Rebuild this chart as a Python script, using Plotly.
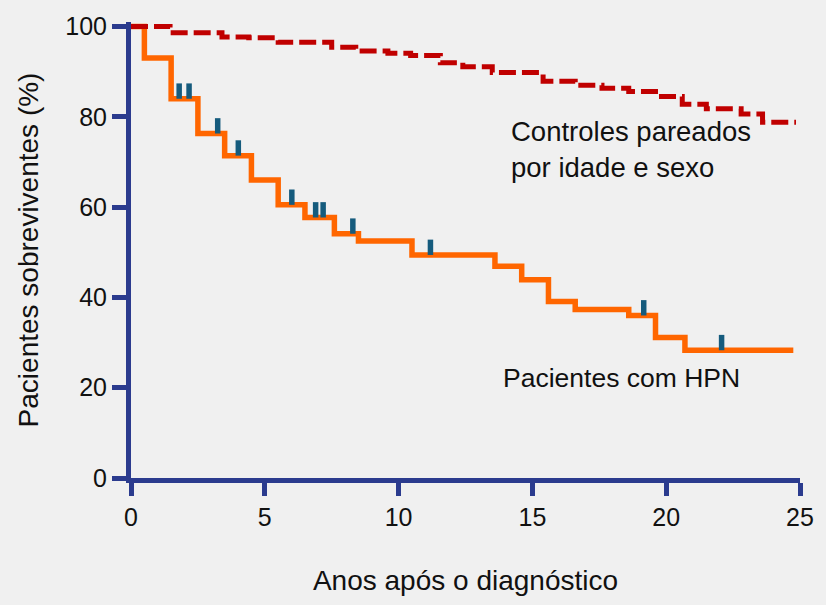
import plotly.graph_objects as go

# Kaplan-Meier style survival data
hpn_years = [0, 0.5, 1.5, 2.5, 3.5, 4.5, 5.5, 6.5, 7.6, 8.5, 10.5, 13.6, 14.6,
             15.6, 16.6, 18.6, 19.6, 20.7, 24.75]
hpn_surv = [100, 93, 84, 76.3, 71.4, 66, 60.5, 57.7, 54.1, 52.5, 49.4, 46.9, 43.9,
            39.1, 37.3, 36.0, 31.1, 28.3, 28.3]

censor_years = [1.8, 2.17, 3.24, 4.01, 6.01, 6.9, 7.18, 8.29, 11.19, 19.16, 22.07]

ctrl_years = [0, 1.46, 3.4, 4.4, 5.5, 7.5, 8.4, 9.6, 10.45, 11.56, 12.4, 13.5,
              15.4, 16.6, 17.6, 18.6, 19.7, 20.6, 21.5, 22.8, 23.6, 24.85]
ctrl_surv = [100, 98.6, 97.7, 97.5, 96.5, 95.4, 94.6, 94.1, 93.6, 92.0, 91.1, 89.8,
             87.9, 87.0, 86.3, 85.6, 84.5, 82.8, 81.8, 80.6, 78.8, 78.8]

x_ticks = [0, 5, 10, 15, 20, 25]
y_ticks = [0, 20, 40, 60, 80, 100]

AXIS = "#2b3b8e"
FONT = "Liberation Sans, Arial, sans-serif"


def step_value(x):
    val = hpn_surv[0]
    for t, s in zip(hpn_years, hpn_surv):
        if t <= x:
            val = s
    return val


mark_h = 3.4
cx, cy = [], []
for x in censor_years:
    s = step_value(x)
    cx += [x, x, None]
    cy += [s, s + mark_h, None]

fig = go.Figure()
fig.add_trace(go.Scatter(x=hpn_years, y=hpn_surv, mode="lines",
                         line=dict(color="#ff6600", width=5.5, shape="hv"),
                         name="Pacientes com HPN", showlegend=False))
fig.add_trace(go.Scatter(x=cx, y=cy, mode="lines",
                         line=dict(color="#155b7d", width=5.5),
                         name="Censurados", showlegend=False, hoverinfo="skip"))
fig.add_trace(go.Scatter(x=ctrl_years, y=ctrl_surv, mode="lines",
                         line=dict(color="#c00000", width=5, shape="hv", dash="17px,6px"),
                         name="Controles pareados", showlegend=False))

fig.add_annotation(x=14.12, y=72.7, xref="x", yref="y",
                   text="Controles pareados<br>por idade e sexo",
                   showarrow=False, xanchor="left", yanchor="middle", align="left",
                   font=dict(family=FONT, size=27.5, color="#111111"))
fig.add_annotation(x=13.83, y=22.25, xref="x", yref="y",
                   text="Pacientes com HPN",
                   showarrow=False, xanchor="left", yanchor="middle", align="left",
                   font=dict(family=FONT, size=26.5, color="#111111"))

fig.update_layout(
    width=826, height=605,
    margin=dict(l=131, r=18, t=18, b=118),
    paper_bgcolor="#f0f0f0", plot_bgcolor="#f0f0f0",
    font=dict(family=FONT, color="#111111"),
    xaxis=dict(range=[0, 25], tickvals=x_ticks, showgrid=False, zeroline=False,
               showline=True, linecolor=AXIS, linewidth=5,
               ticks="outside", ticklen=13, tickwidth=5, tickcolor=AXIS,
               tickfont=dict(size=25, family=FONT, color="#111111"),
               title=dict(text="Anos após o diagnóstico", standoff=42,
                          font=dict(size=28, family=FONT, color="#111111"))),
    yaxis=dict(range=[0, 101], tickvals=y_ticks, showgrid=False, zeroline=False,
               showline=True, linecolor=AXIS, linewidth=5,
               ticks="outside", ticklen=14, tickwidth=5, tickcolor=AXIS,
               tickfont=dict(size=25, family=FONT, color="#111111"),
               title=dict(text="Pacientes sobreviventes (%)", standoff=20,
                          font=dict(size=28, family=FONT, color="#111111"))),
)

fig.write_html("out.html", config={"displayModeBar": False},
               post_script="document.documentElement.style.overflow='hidden';"
                           "document.body.style.overflow='hidden';"
                           "document.body.style.margin='0';"
                           "document.body.style.padding='0';"
                           "document.body.style.background='#f0f0f0';")
